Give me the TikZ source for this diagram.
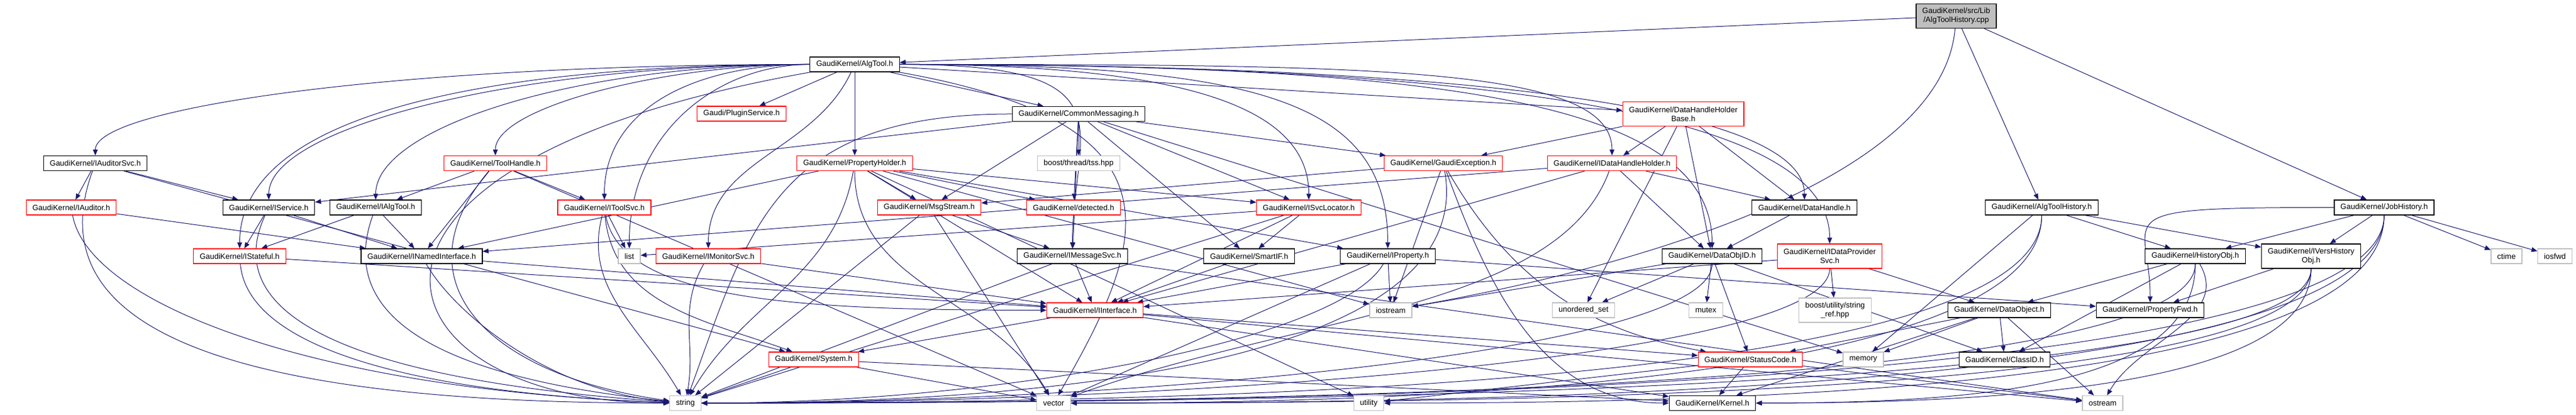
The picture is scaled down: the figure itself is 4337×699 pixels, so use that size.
\documentclass[tikz,border=0pt]{standalone}
\usepackage{fontspec}
\setmainfont{Liberation Sans}
\usepackage{tikz}
\usetikzlibrary{arrows.meta, backgrounds}
\definecolor{sblue}{HTML}{191970}
\definecolor{sgray}{HTML}{BFBFBF}
\definecolor{sred}{HTML}{FF0000}

\begin{document}
\begin{tikzpicture}[x=0.1pt, y=0.1pt,
    BOX/.style={rectangle, fill=white, line width=0.12pt, inner xsep=1.05pt, inner ysep=0pt, minimum height=2.5pt, align=center, font=\fontsize{1.3}{1.5}\selectfont},
    BBX/.style={BOX, draw=black},
    RBX/.style={BOX, draw=sred},
    GBX/.style={BOX, draw=sgray},
    TWO/.style={minimum height=4.1pt},
    EDG/.style={draw=sblue, line width=0.1pt, ->, >={Stealth[length=1pt, width=0.8pt, inset=0pt]}},
    LDN/.style 2 args={out=180, in=90, out distance=#1, in distance=#2},
    RDN/.style 2 args={out=0, in=90, out distance=#1, in distance=#2},
    DNR/.style 2 args={out=-90, in=0, out distance=#1, in distance=#2}
    ]
    \useasboundingbox (0,0) rectangle (4337,-699);
    % top rows
    \node[BBX, TWO, fill=sgray] (TOP) at (3293.5,-27) {GaudiKernel/src/Lib\\/AlgToolHistory.cpp};
    \node[BBX] (ALGT) at (1439,-108.5) {GaudiKernel/AlgTool.h};
    \node[RBX] (PLUG) at (1248.5,-191.5) {Gaudi/PluginService.h};
    \node[BBX] (CMSG) at (1816,-192) {GaudiKernel/CommonMessaging.h};
    \node[RBX, TWO] (DHHB) at (2834,-192) {GaudiKernel/DataHandleHolder\\Base.h};
    \node[BBX] (IAUS) at (160.5,-275) {GaudiKernel/IAuditorSvc.h};
    \node[RBX] (TOOLH) at (834,-275) {GaudiKernel/ToolHandle.h};
    \node[RBX] (PROPH) at (1439,-275) {GaudiKernel/PropertyHolder.h};
    \node[GBX] (TSS) at (1816,-275) {boost/thread/tss.hpp};
    \node[RBX] (GEXC) at (2430,-275) {GaudiKernel/GaudiException.h};
    \node[RBX] (IDHH) at (2714,-275) {GaudiKernel/IDataHandleHolder.h};
    % middle rows
    \node[RBX] (IAUD) at (120,-349.5) {GaudiKernel/IAuditor.h};
    \node[BBX] (ISVC) at (452.5,-349.5) {GaudiKernel/IService.h};
    \node[BBX] (IALG) at (632.5,-349.5) {GaudiKernel/IAlgTool.h};
    \node[RBX] (ITSV) at (1017.5,-349.5) {GaudiKernel/IToolSvc.h};
    \node[RBX] (MSGS) at (1564.5,-349.5) {GaudiKernel/MsgStream.h};
    \node[RBX] (DETE) at (1807.5,-349.5) {GaudiKernel/detected.h};
    \node[RBX] (ISLO) at (2203.5,-349.5) {GaudiKernel/ISvcLocator.h};
    \node[BBX] (DHAN) at (3038,-349.5) {GaudiKernel/DataHandle.h};
    \node[BBX] (ATHI) at (3437.5,-349.5) {GaudiKernel/AlgToolHistory.h};
    \node[BBX] (JOBH) at (4014,-349.5) {GaudiKernel/JobHistory.h};
    \node[RBX] (ISTA) at (403.5,-431.5) {GaudiKernel/IStateful.h};
    \node[BBX] (INAM) at (710,-431.5) {GaudiKernel/INamedInterface.h};
    \node[GBX] (LIST) at (1059.5,-431.5) {list};
    \node[RBX] (IMON) at (1192.5,-431.5) {GaudiKernel/IMonitorSvc.h};
    \node[BBX] (IMES) at (1805.5,-431.5) {GaudiKernel/IMessageSvc.h};
    \node[BBX] (SMIF) at (2103,-431.5) {GaudiKernel/SmartIF.h};
    \node[BBX] (IPRO) at (2336.5,-431.5) {GaudiKernel/IProperty.h};
    \node[BBX] (DOID) at (2882.5,-431.5) {GaudiKernel/DataObjID.h};
    \node[RBX, TWO] (IDPS) at (3080.5,-431.5) {GaudiKernel/IDataProvider\\Svc.h};
    \node[BBX] (HOBJ) at (3696,-431.5) {GaudiKernel/HistoryObj.h};
    \node[BBX, TWO] (IVHO) at (3891,-431.5) {GaudiKernel/IVersHistory\\Obj.h};
    \node[GBX] (CTIM) at (4220,-431.5) {ctime};
    \node[GBX] (IOSF) at (4301.5,-431.5) {iosfwd};
    % lower rows
    \node[RBX] (IINT) at (1843.5,-522.5) {GaudiKernel/IInterface.h};
    \node[GBX] (IOST) at (2341.5,-522.5) {iostream};
    \node[GBX] (USET) at (2666,-522.5) {unordered\_set};
    \node[GBX] (MUTX) at (2872,-522.5) {mutex};
    \node[GBX, TWO] (SREF) at (3089.5,-522.5) {boost/utility/string\\\_ref.hpp};
    \node[BBX] (DOBJ) at (3366,-522.5) {GaudiKernel/DataObject.h};
    \node[BBX] (PFWD) at (3620,-522.5) {GaudiKernel/PropertyFwd.h};
    \node[RBX] (SYST) at (1370,-605.5) {GaudiKernel/System.h};
    \node[RBX] (STAT) at (2947,-605.5) {GaudiKernel/StatusCode.h};
    \node[GBX] (MEMO) at (3137,-605.5) {memory};
    \node[BBX] (CLID) at (3375,-605.5) {GaudiKernel/ClassID.h};
    \node[GBX] (STR) at (1154,-679) {string};
    \node[GBX] (VEC) at (1774,-679) {vector};
    \node[GBX] (UTIL) at (2304.5,-679) {utility};
    \node[BBX] (KERN) at (2883,-679) {GaudiKernel/Kernel.h};
    \node[GBX] (OSTR) at (3540,-679) {ostream};

    \begin{scope}[on background layer]
    % from the source file
    \draw[EDG] (TOP) -- (ALGT); \draw[EDG] (TOP) -- (ATHI); \draw[EDG] (TOP) -- (JOBH);
    \draw[EDG] (TOP) to[out=-95, in=10, out distance=25pt, in distance=40pt] (IOST);
    % AlgTool.h
    \draw[EDG] (ALGT) to[LDN={70pt}{8pt}] (IAUS); \draw[EDG] (ALGT) to[LDN={50pt}{12pt}] (ISVC);
    \draw[EDG] (ALGT) to[LDN={45pt}{25pt}] (ISTA); \draw[EDG] (ALGT) to[LDN={40pt}{12pt}] (IALG);
    \draw[EDG] (ALGT) to[LDN={25pt}{8pt}] (TOOLH); \draw[EDG] (ALGT) to[LDN={20pt}{15pt}] (ITSV);
    \draw[EDG] (ALGT) to[LDN={15pt}{20pt}] (LIST); \draw[EDG] (ALGT) -- (PLUG);
    \draw[EDG] (ALGT) to[out=-115, in=90] (IMON); \draw[EDG] (ALGT) -- (PROPH); \draw[EDG] (ALGT) -- (CMSG);
    \draw[EDG] (ALGT) to[RDN={40pt}{20pt}] (IMES); \draw[EDG] (ALGT) to[RDN={50pt}{15pt}] (ISLO);
    \draw[EDG] (ALGT) to[RDN={60pt}{25pt}] (IPRO); \draw[EDG] (ALGT) -- (DHHB);
    \draw[EDG] (ALGT) to[RDN={80pt}{15pt}] (IDHH); \draw[EDG] (ALGT) to[RDN={100pt}{15pt}] (DHAN);
    \draw[EDG] (ALGT) to[RDN={110pt}{20pt}] (IDPS); \draw[EDG] (ALGT) to[RDN={90pt}{25pt}] (DOID);
    \draw[EDG] (ALGT) to[out=190, in=180, out distance=90pt, in distance=50pt] (STR);
    \draw[EDG] (ALGT) to[out=-10, in=60, out distance=50pt, in distance=30pt] (VEC);
    % interfaces on the left
    \draw[EDG] (IAUS) -- (IAUD); \draw[EDG] (IAUS) -- (ISVC); \draw[EDG] (IAUS) -- (SYST);
    \draw[EDG] (IAUS) to[out=-110, in=180, out distance=30pt, in distance=70pt] (STR);
    \draw[EDG] (IAUD) -- (INAM); \draw[EDG] (IAUD) to[out=-80, in=178, out distance=15pt, in distance=60pt] (STR);
    \draw[EDG] (ISVC) -- (ISTA); \draw[EDG] (ISVC) -- (INAM);
    \draw[EDG] (ISVC) to[out=-115, in=176, out distance=20pt, in distance=50pt] (STR);
    \draw[EDG] (IALG) -- (ISTA); \draw[EDG] (IALG) -- (INAM);
    \draw[EDG] (IALG) to[out=-110, in=174, out distance=20pt, in distance=35pt] (STR);
    \draw[EDG] (ISTA) -- (IINT); \draw[EDG] (ISTA) to[out=-85, in=178, out distance=15pt, in distance=40pt] (STR);
    \draw[EDG] (INAM) -- (IINT); \draw[EDG] (INAM) to[out=-60, in=175, out distance=10pt, in distance=20pt] (STR);
    \draw[EDG] (TOOLH) -- (IALG); \draw[EDG] (TOOLH) -- (INAM); \draw[EDG] (TOOLH) -- (ITSV); \draw[EDG] (TOOLH) -- (VEC);
    \draw[EDG] (TOOLH) to[out=-130, in=172, out distance=25pt, in distance=30pt] (STR);
    \draw[EDG] (ITSV) -- (LIST); \draw[EDG] (ITSV) to[out=-80, in=180, out distance=15pt, in distance=40pt] (IINT);
    \draw[EDG] (ITSV) to[out=-85, in=160] (SYST); \draw[EDG] (ITSV) to[out=-105, in=120] (STR);
    \draw[EDG] (IMON) -- (IINT); \draw[EDG] (IMON) to[out=-120, in=80] (STR);
    % properties and messaging
    \draw[EDG] (PROPH) -- (INAM); \draw[EDG] (PROPH) -- (MSGS); \draw[EDG] (PROPH) -- (DETE); \draw[EDG] (PROPH) -- (ISLO);
    \draw[EDG] (PROPH) -- (IPRO); \draw[EDG] (PROPH) -- (IINT); \draw[EDG] (PROPH) -- (IOST); \draw[EDG] (PROPH) -- (UTIL);
    \draw[EDG] (PROPH) to[out=-100, in=60] (STR); \draw[EDG] (PROPH) to[out=-90, in=120] (VEC);
    \draw[EDG] (CMSG) -- (ISVC); \draw[EDG] (CMSG) to[out=180, in=70, out distance=40pt, in distance=30pt] (STR);
    \draw[EDG] (CMSG) -- (MSGS); \draw[EDG] (CMSG) -- (DETE); \draw[EDG] (CMSG) -- (TSS); \draw[EDG] (CMSG) -- (IMES);
    \draw[EDG] (CMSG) -- (ISLO); \draw[EDG] (CMSG) -- (GEXC); \draw[EDG] (CMSG) -- (SMIF); \draw[EDG] (CMSG) -- (MEMO);
    \draw[EDG] (MSGS) -- (IMES); \draw[EDG] (MSGS) -- (STR); \draw[EDG] (MSGS) -- (VEC);
    \draw[EDG] (IMES) -- (IINT); \draw[EDG] (IMES) -- (STR); \draw[EDG] (IMES) -- (OSTR);
    \draw[EDG] (ISLO) -- (SMIF); \draw[EDG] (ISLO) -- (IINT); \draw[EDG] (ISLO) -- (LIST); \draw[EDG] (ISLO) -- (STR);
    \draw[EDG] (SMIF) -- (IINT);
    \draw[EDG] (IPRO) -- (IINT); \draw[EDG] (IPRO) -- (PFWD); \draw[EDG] (IPRO) -- (IOST); \draw[EDG] (IPRO) -- (VEC);
    \draw[EDG] (IPRO) to[out=-120, in=0, out distance=15pt, in distance=50pt] (STR);
    \draw[EDG] (GEXC) -- (MSGS); \draw[EDG] (GEXC) -- (IOST);
    \draw[EDG] (GEXC) to[out=-80, in=0, out distance=30pt, in distance=70pt] (STR);
    \draw[EDG] (GEXC) to[out=-60, in=170] (STAT); \draw[EDG] (GEXC) to[out=-70, in=180] (KERN);
    % data handles
    \draw[EDG] (IDHH) -- (INAM); \draw[EDG] (IDHH) -- (IINT); \draw[EDG] (IDHH) -- (DOID); \draw[EDG] (IDHH) -- (DHAN);
    \draw[EDG] (IDHH) to[out=-110, in=20, out distance=25pt, in distance=40pt] (VEC);
    \draw[EDG] (DHHB) -- (GEXC); \draw[EDG] (DHHB) -- (IDHH); \draw[EDG] (DHHB) -- (DHAN); \draw[EDG] (DHHB) -- (DOID);
    \draw[EDG] (DHHB) -- (USET);
    \draw[EDG] (DHAN) -- (DOID);
    \draw[EDG] (DOID) -- (CLID); \draw[EDG] (DOID) -- (STAT); \draw[EDG] (DOID) -- (IOST); \draw[EDG] (DOID) -- (MUTX);
    \draw[EDG] (DOID) -- (USET); \draw[EDG] (DOID) to[DNR={15pt}{70pt}] (STR);
    \draw[EDG] (IDPS) -- (SREF); \draw[EDG] (IDPS) -- (DOBJ); \draw[EDG] (IDPS) -- (IINT);
    \draw[EDG] (IDPS) to[DNR={15pt}{80pt}] (STR);
    \draw[EDG] (DOBJ) -- (STAT); \draw[EDG] (DOBJ) -- (MEMO); \draw[EDG] (DOBJ) -- (CLID); \draw[EDG] (DOBJ) -- (OSTR);
    \draw[EDG] (DOBJ) -- (KERN);
    % history
    \draw[EDG] (ATHI) -- (HOBJ); \draw[EDG] (ATHI) -- (IVHO); \draw[EDG] (ATHI) -- (MEMO);
    \draw[EDG] (ATHI) to[DNR={25pt}{120pt}] (STR); \draw[EDG] (ATHI) to[DNR={25pt}{80pt}] (VEC);
    \draw[EDG] (JOBH) to[LDN={40pt}{15pt}] (PFWD); \draw[EDG] (JOBH) -- (HOBJ); \draw[EDG] (JOBH) -- (IVHO);
    \draw[EDG] (JOBH) -- (CTIM); \draw[EDG] (JOBH) -- (IOSF);
    \draw[EDG] (JOBH) to[DNR={28pt}{120pt}] (STR); \draw[EDG] (JOBH) to[DNR={28pt}{70pt}] (UTIL);
    \draw[EDG] (JOBH) to[DNR={28pt}{90pt}] (VEC);
    \draw[EDG] (HOBJ) -- (DOBJ); \draw[EDG] (HOBJ) -- (CLID); \draw[EDG] (HOBJ) to[out=-60, in=60] (OSTR);
    \draw[EDG] (HOBJ) to[DNR={20pt}{40pt}] (KERN); \draw[EDG] (HOBJ) to[DNR={20pt}{110pt}] (STR);
    \draw[EDG] (IVHO) -- (PFWD); \draw[EDG] (IVHO) to[DNR={20pt}{110pt}] (STR);
    \draw[EDG] (IVHO) to[DNR={20pt}{90pt}] (VEC); \draw[EDG] (IVHO) to[DNR={20pt}{40pt}] (KERN);
    % kernel basics
    \draw[EDG] (IINT) -- (SYST); \draw[EDG] (IINT) -- (STAT); \draw[EDG] (IINT) -- (KERN); \draw[EDG] (IINT) -- (OSTR);
    \draw[EDG] (SYST) -- (STR); \draw[EDG] (SYST) -- (VEC); \draw[EDG] (SYST) -- (KERN);
    \draw[EDG] (STAT) -- (KERN); \draw[EDG] (STAT) -- (OSTR); \draw[EDG] (STAT) -- (UTIL);
    \end{scope}
\end{tikzpicture}
\end{document}
